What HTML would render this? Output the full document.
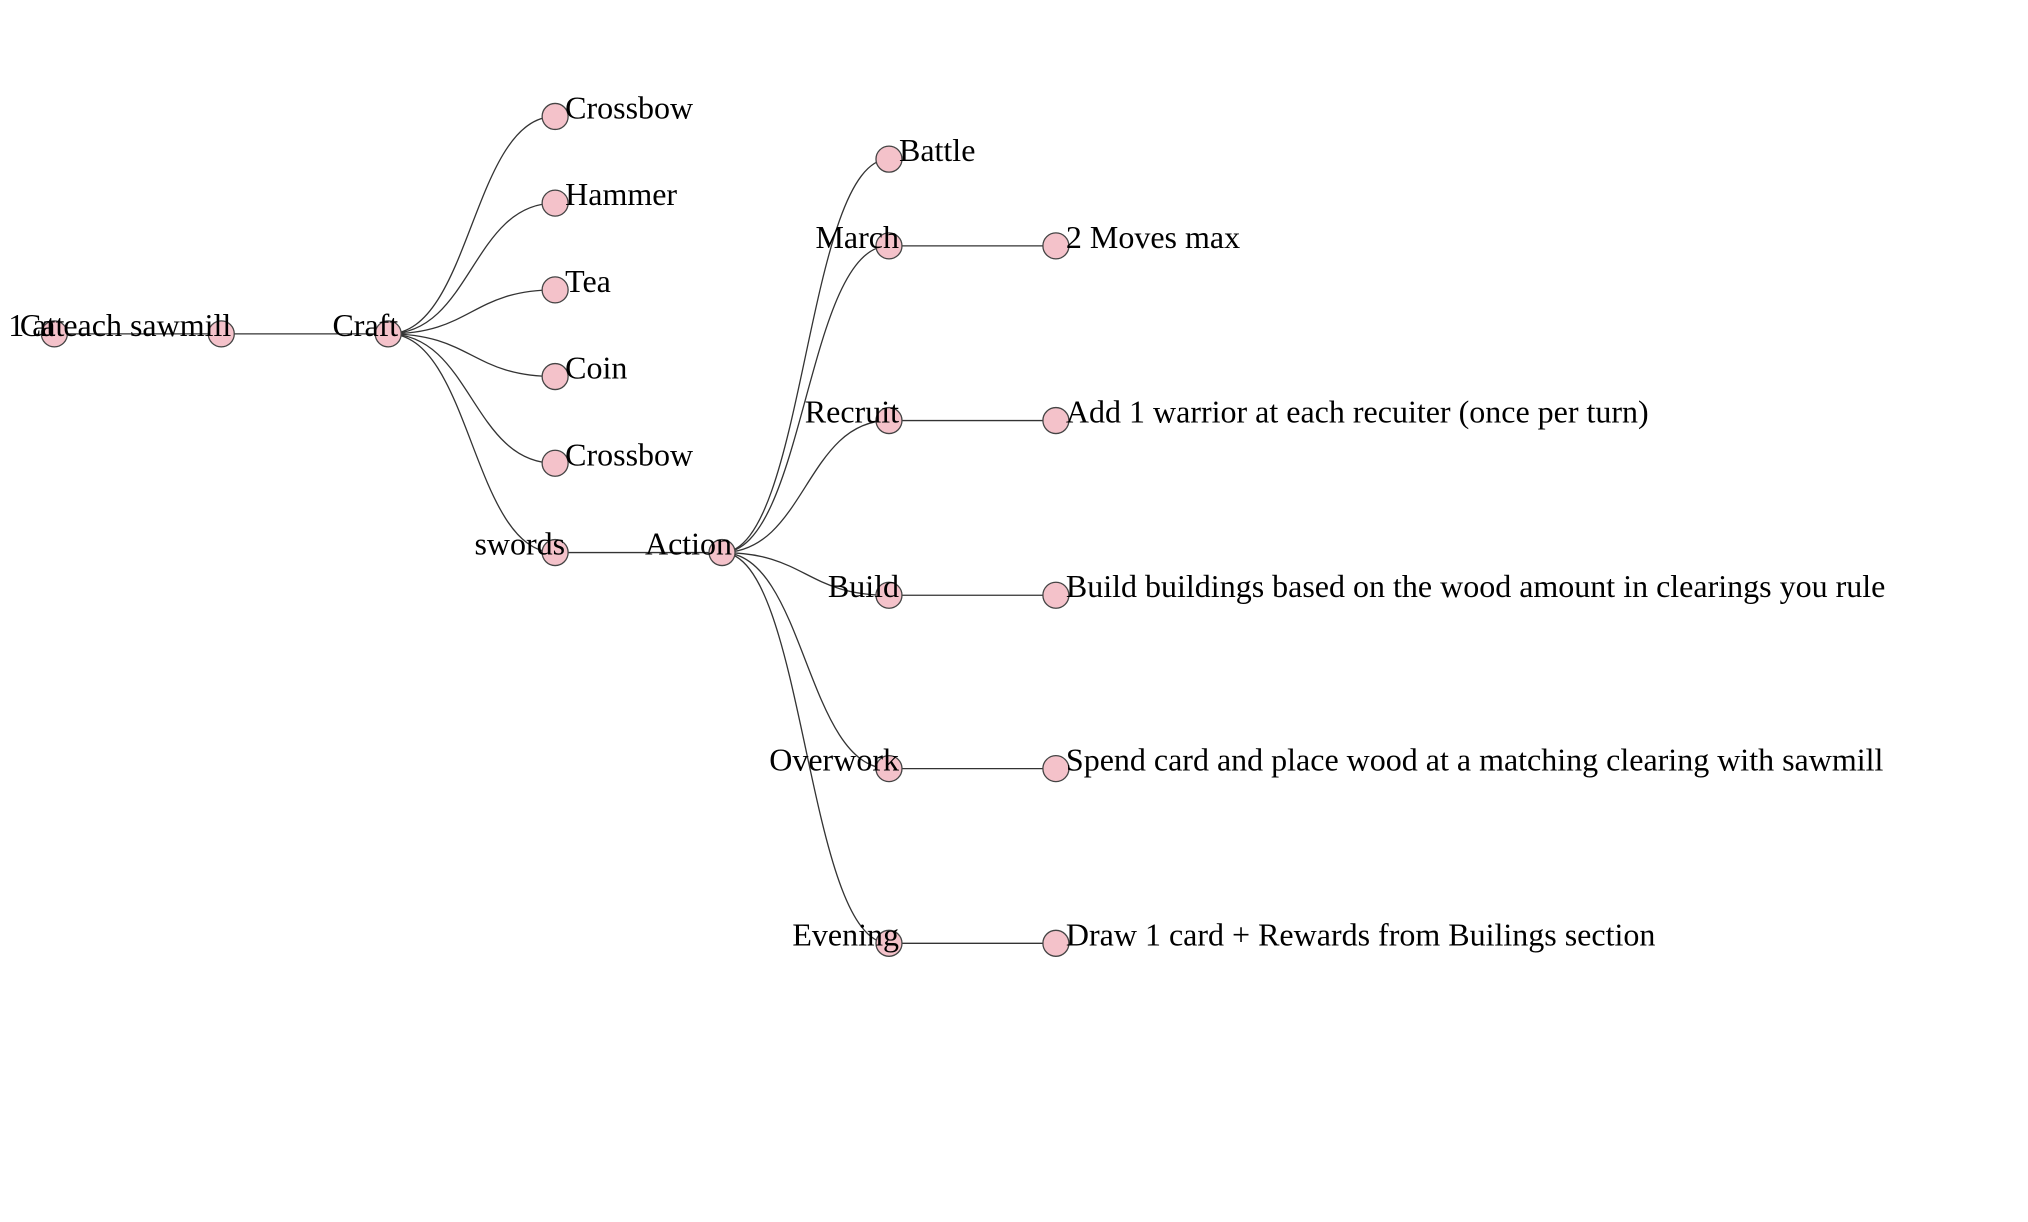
<!DOCTYPE html>
<html><head><meta charset="utf-8"><style>
html,body{margin:0;padding:0;background:#fff;}
svg{display:block;}
text{font-family:"Liberation Serif",serif;font-size:32px;fill:#000;}
</style></head><body>
<svg id="chart" width="2028" height="1222" viewBox="0 0 2028 1222" xmlns="http://www.w3.org/2000/svg">
<g id="links"></g>
<g id="nodes"></g>
</svg>
<script>
// tree data: names, depth, row position (in layout units), parent index
const names = ["Cat","1 at each sawmill","Craft","Crossbow","Hammer","Tea","Coin","Crossbow","swords","Action","Battle","March","Recruit","Build","Overwork","Evening","2 Moves max","Add 1 warrior at each recuiter (once per turn)","Build buildings based on the wood amount in clearings you rule","Spend card and place wood at a matching clearing with sawmill","Draw 1 card + Rewards from Builings section"];
const depths = [0,1,2,3,3,3,3,3,3,4,5,5,5,5,5,5,6,6,6,6,6];
const rows = [258,258,258,90,157,224,291,358,427,427,123,190,325,460,594,729,190,325,460,594,729];
const parents = [-1,0,1,2,2,2,2,2,2,8,9,9,9,9,9,9,11,12,13,14,15];

const S = 1.294;
function xPos(d){ return (42 + d*129) * S; }
function yPos(r){ return r * S; }
const ns = "http://www.w3.org/2000/svg";
const linksG = document.getElementById('links');
const nodesG = document.getElementById('nodes');
const hasChild = names.map((_,i)=>parents.includes(i));

for (let i=0;i<names.length;i++){
  const p = parents[i];
  if (p<0) continue;
  const sx=xPos(depths[p]), sy=yPos(rows[p]), tx=xPos(depths[i]), ty=yPos(rows[i]);
  const mx=(sx+tx)/2;
  const path=document.createElementNS(ns,'path');
  path.setAttribute('d',`M${sx},${sy}C${mx},${sy} ${mx},${ty} ${tx},${ty}`);
  path.setAttribute('fill','none');
  path.setAttribute('stroke','#333');
  path.setAttribute('stroke-width','1.3');
  
  
  linksG.appendChild(path);
}
for (let i=0;i<names.length;i++){
  const x=xPos(depths[i]), y=yPos(rows[i]);
  const g=document.createElementNS(ns,'g');
  
  
  const c=document.createElementNS(ns,'circle');
  c.setAttribute('cx',x); c.setAttribute('cy',y); c.setAttribute('r',13);
  c.setAttribute('fill','#f4c2ca'); c.setAttribute('stroke','#444'); c.setAttribute('stroke-width','1.3');
  
  
  g.appendChild(c);
  const t=document.createElementNS(ns,'text');
  if (hasChild[i]) { t.setAttribute('x',x+10); t.setAttribute('text-anchor','end'); }
  else { t.setAttribute('x',x+10); t.setAttribute('text-anchor','start'); }
  t.setAttribute('y',y+2);
  t.textContent=names[i];
  
  
  g.appendChild(t);
  nodesG.appendChild(g);
}
</script>
</body></html>
